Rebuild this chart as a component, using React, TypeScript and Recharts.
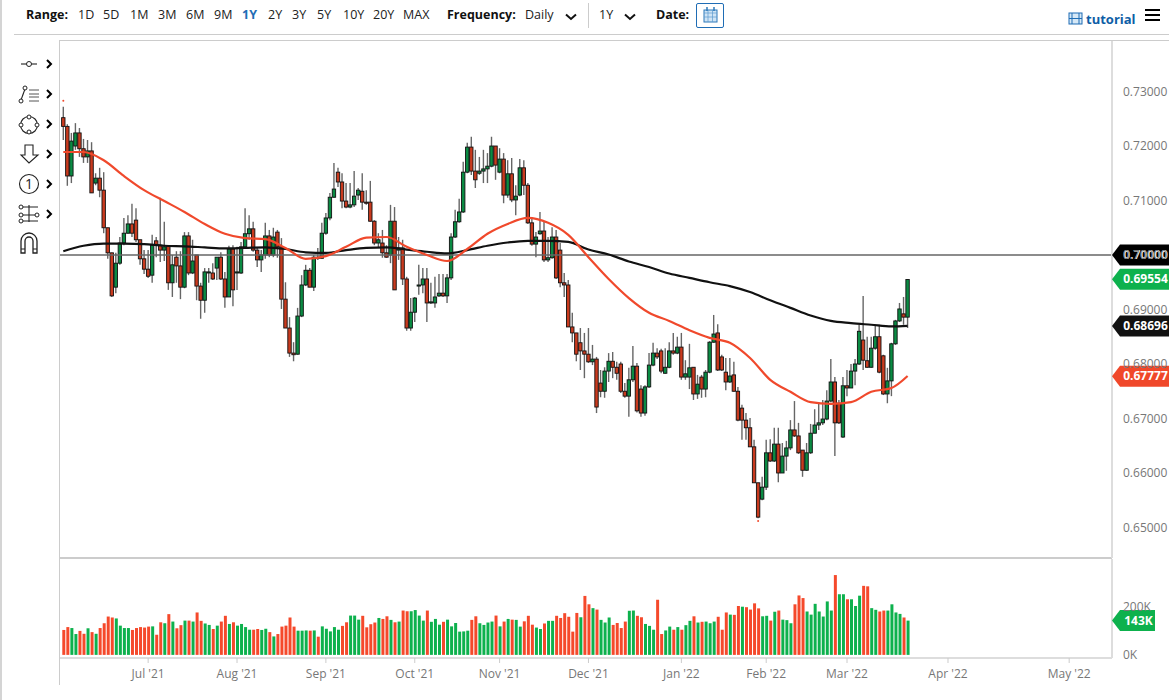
import {Bar, Cell, ComposedChart, Line, ReferenceDot, ReferenceLine, XAxis, YAxis} from "recharts"

const font = '"Open Sans", sans-serif'

// daily AUD/USD candles, in pips (price * 10000)
const opens = [
    7252,7236,7145,7200,7224,7195,7180,7191,7132,7141, 7119,7050,7004,6941,6985,7022,7040,7057,7064,7028,
    6993,6974,6963,7026,7018,7009,7017,6949,6996,6980, 6941,7035,6967,7000,6943,6917,6967,6967,6976,6996,
    6956,6923,7011,6967,6967,7015,7039,7048,7009,6991, 7000,7035,7000,7042,7015,6919,6866,6820,6818,6888,
    6945,6972,6941,6996,6994,7040,7068,7106,7152,7134, 7099,7088,7092,7110,7117,7097,7097,7062,7022,7022,
    7004,7000,7062,7009,7013,6956,6866,6895,6943,6945, 6956,6912,6912,6925,6930,6925,6958,7033,7061,7079,
    7152,7198,7154,7150,7154,7158,7163,7200,7152,7176, 7110,7149,7101,7110,7160,7128,7059,7020,7039,7044,
    6991,6995,7033,7009,6949,6945,6868,6857,6839,6824, 6818,6804,6809,6765,6750,6787,6805,6794,6800,6750,
    6741,6771,6796,6754,6710,6758,6798,6820,6824,6783, 6794,6824,6820,6831,6776,6776,6794,6745,6776,6754,
    6785,6840,6857,6813,6785,6767,6780,6750,6719,6697, 6683,6648,6582,6552,6574,6637,6622,6653,6600,6631,
    6646,6679,6668,6642,6605,6637,6673,6688,6692,6699, 6732,6767,6728,6666,6760,6756,6787,6800,6844,6806,
    6794,6829,6850,6815,6745,6769,6837,6879,6892,6886,
]
const closes = [
    7236,7145,7209,7224,7195,7180,7191,7114,7141,7119, 7050,7004,6925,6985,7022,7040,7057,7040,7028,6993,
    6974,6961,7018,7018,7009,7015,6949,6982,6980,6941, 7035,6967,6989,6943,6917,6969,6969,6956,6996,6956,
    6923,7011,6936,6969,7015,7039,7048,7009,6991,7000, 7035,7000,7033,7015,6919,6866,6820,6817,6888,6945,
    6972,6941,6996,6994,7040,7068,7106,7121,7134,7099, 7088,7092,7108,7119,7097,7095,7062,7022,7028,7004,
    6996,7062,6936,7013,6956,6866,6895,6921,6945,6956, 6912,6914,6923,6930,6925,6958,7033,7061,7079,7152,
    7198,7154,7138,7154,7158,7163,7200,7165,7176,7110, 7149,7101,7108,7160,7128,7059,7020,7033,7044,6991,
    6995,7033,6958,6949,6945,6868,6857,6818,6824,6818, 6804,6809,6721,6750,6787,6805,6794,6783,6750,6741,
    6771,6796,6714,6710,6758,6798,6820,6813,6787,6794, 6824,6820,6831,6776,6782,6793,6745,6763,6754,6785,
    6840,6855,6789,6789,6767,6778,6750,6697,6697,6683, 6648,6582,6519,6574,6637,6622,6653,6600,6631,6646,
    6679,6668,6637,6605,6637,6673,6688,6692,6699,6732, 6767,6692,6692,6760,6756,6787,6800,6860,6807,6794,
    6829,6850,6785,6745,6769,6837,6879,6901,6886,6955,
]
const highs = [
    7272,7240,7224,7242,7233,7213,7211,7207,7150,7160, 7152,7050,7004,7004,7033,7068,7073,7094,7086,7028,
    7009,7009,7037,7033,7105,7061,7018,7000,7007,7007, 7042,7042,7028,7000,6949,6976,6976,6985,6996,7005,
    6969,7017,7018,7015,7024,7086,7073,7061,7013,7009, 7059,7046,7050,7046,7031,6950,6886,6840,6903,6963,
    6982,6976,7000,7013,7059,7077,7114,7169,7160,7150, 7132,7132,7154,7123,7150,7119,7136,7064,7040,7046,
    7018,7092,7088,7033,7028,6960,6921,6923,6982,6976, 6976,6949,6960,6965,6965,6965,7040,7083,7103,7171,
    7206,7217,7193,7180,7193,7187,7217,7200,7196,7187, 7174,7178,7128,7176,7174,7132,7068,7042,7079,7061,
    7033,7051,7046,7022,6967,6954,6894,6857,6866,6857, 6866,6835,6813,6789,6794,6820,6822,6804,6804,6765,
    6793,6833,6802,6761,6761,6820,6839,6829,6828,6829, 6840,6857,6850,6857,6807,6837,6794,6780,6780,6789,
    6842,6890,6873,6817,6811,6811,6804,6758,6725,6710, 6701,6661,6582,6593,6661,6662,6683,6683,6655,6659,
    6697,6732,6692,6642,6655,6690,6717,6728,6734,6752, 6809,6776,6734,6776,6789,6800,6809,6872,6925,6850,
    6850,6872,6872,6817,6793,6839,6881,6912,6923,6956,
]
const lows = [
    7211,7127,7132,7193,7180,7169,7169,7114,7128,7106, 7040,6993,6923,6930,6982,7018,7039,7033,7024,6982,
    6965,6958,6949,6996,6987,6989,6936,6923,6949,6919, 6939,6963,6965,6917,6883,6894,6949,6954,6954,6954,
    6903,6923,6906,6936,6965,7013,7028,7006,6978,6969, 6993,6996,6996,6995,6901,6866,6813,6805,6817,6886,
    6943,6941,6934,6991,6993,7037,7064,7105,7125,7086, 7086,7086,7088,7101,7083,7092,7061,7018,7013,6995,
    6995,6985,6936,6991,6945,6861,6861,6877,6927,6930, 6877,6910,6903,6923,6923,6912,6954,7031,7059,7077,
    7150,7147,7123,7147,7132,7132,7161,7138,7150,7095, 7105,7097,7073,7108,7110,7057,7017,6996,7037,6987,
    6987,6993,6956,6941,6923,6868,6840,6805,6789,6774, 6802,6798,6710,6739,6738,6767,6774,6771,6747,6738,
    6703,6767,6711,6703,6705,6756,6796,6809,6783,6782, 6792,6817,6818,6771,6771,6754,6734,6736,6738,6739,
    6783,6839,6787,6787,6752,6765,6749,6695,6661,6661, 6648,6582,6517,6550,6569,6620,6620,6583,6600,6604,
    6642,6666,6635,6593,6604,6635,6673,6679,6688,6697, 6730,6631,6690,6664,6741,6756,6761,6798,6789,6793,
    6793,6826,6783,6743,6728,6741,6835,6877,6872,6866,
]
// volume in thousands
const volumes = [
    104,116,112,87,100,88,111,95,88,112, 132,160,156,152,122,112,112,104,112,116,
    114,118,119,84,136,132,170,139,111,124, 143,143,139,177,142,131,125,108,122,139,
    163,129,136,122,129,116,105,105,108,104, 109,95,77,87,118,122,156,118,101,101,
    102,101,102,76,119,109,98,116,105,121, 136,164,164,147,163,115,128,135,154,150,
    161,146,136,139,185,182,182,187,164,143, 185,138,150,126,138,147,119,133,97,98,
    101,146,161,132,125,135,139,164,119,139, 150,147,146,118,140,163,126,114,108,131,
    142,142,163,154,174,159,97,175,157,246, 211,195,189,146,135,156,125,133,112,139,
    184,185,163,157,129,121,105,230,87,102, 118,105,116,105,124,142,161,135,138,139,
    132,139,159,105,177,168,167,204,201,199, 189,215,194,161,163,143,180,185,147,145,
    132,211,248,237,181,168,213,181,160,223, 185,333,253,253,232,232,204,247,288,286,
    195,188,181,185,185,211,177,171,156,143,
]
// days where the volume bar is green under a red candle
const greenVolumeOnRed = [68, 128, 133, 168, 192]

// moving averages, read every 5 bars (and the last one), in pips
const maBars = [
    0,5,10,15,20,25,30,35,40,45,50,55,60,65,70,75,80,85,90,95,100,
    105,110,115,120,125,130,135,140,145,150,155,160,165,170,175,180,185,190,195,200,205,209,
]
const ma50 = [
    7189,7189,7174,7145,7119,7099,7079,7057,7039,7031,7029,7013,6993,6998,7015,7032,7033,7015,7000,6989,7011,
    7039,7057,7068,7059,7037,6996,6956,6921,6894,6879,6862,6848,6839,6811,6771,6749,6730,6727,6730,6749,6756,6778,
]
const ma200 = [
    7007,7017,7021,7021,7020,7017,7016,7014,7012,7013,7014,7011,7005,7004,7009,7013,7014,7010,7006,7003,7009,
    7017,7023,7026,7026,7024,7010,7001,6988,6978,6966,6958,6950,6943,6932,6917,6903,6889,6879,6875,6872,6869,6870,
]

const monthBars = [21, 43, 65, 87, 108, 130, 153, 174, 194, 219, 249]
const monthLabels = ["Jul '21", "Aug '21", "Sep '21", "Oct '21", "Nov '21", "Dec '21", "Jan '22", "Feb '22", "Mar '22", "Apr '22", "May '22"]
const priceTicks = [0.65, 0.66, 0.67, 0.68, 0.69, 0.70, 0.71, 0.72, 0.73]
const volumeTicks = [0, 200]
const rangeItems = ["1D", "5D", "1M", "3M", "6M", "9M", "1Y", "2Y", "3Y", "5Y", "10Y", "20Y", "MAX"]
const rangeX = [78, 103, 130, 158, 186, 214, 242, 268, 292, 317, 343, 373, 403]

const xDomain = [-0.82, 259.6]
const priceDomain = [0.6444, 0.73927]
const volumeDomain = [-13, 400]

const UP = "#0a8b43"
const DOWN = "#c93a1e"
const VOL_UP = "#0db14d"
const VOL_DOWN = "#f5492b"

const rows = opens.map((open, i) => {
    const at = maBars.indexOf(i)
    return {
        i,
        open: open / 10000,
        close: closes[i] / 10000,
        range: [lows[i] / 10000, highs[i] / 10000],
        volume: volumes[i],
        ma50: at >= 0 ? ma50[at] / 10000 : null,
        ma200: at >= 0 ? ma200[at] / 10000 : null,
    }
})

function Candle(props: any) {
    const {x, y, width, height, payload} = props
    const [low, high] = payload.range
    const k = height / (high - low || 1)
    const top = y + (high - Math.max(payload.open, payload.close)) * k
    const bodyH = Math.max(Math.abs(payload.open - payload.close) * k, 1)
    const cx = x + width / 2
    return (
        <g>
            <line x1={cx} x2={cx} y1={y} y2={y + height} stroke="#666" strokeWidth={1.4}/>
            <rect x={cx - 1.7} y={top} width={3.4} height={bodyH} stroke="#111" strokeWidth={0.9}
                  fill={payload.close >= payload.open ? UP : DOWN}/>
        </g>
    )
}

function Flag(props: any) {
    const {cx, cy, text, fill, right} = props
    return (
        <g>
            <path d={`M${cx} ${cy} L${cx + 8} ${cy - 10.5} H${right} V${cy + 10.5} H${cx + 8} Z`} fill={fill}/>
            <text x={(cx + 8 + right) / 2 + 1} y={cy + 4} textAnchor="middle" fill="#fff" fontSize={12}
                  fontWeight={700} fontFamily={font}>{text}</text>
        </g>
    )
}

function Chevron({x, y}: {x: number, y: number}) {
    return (
        <svg style={{position: "absolute", left: x, top: y}} width={8} height={10}>
            <path d="M2 1 L6 5 L2 9" fill="none" stroke="#000" strokeWidth={2}/>
        </svg>
    )
}

function Down({x, y}: {x: number, y: number}) {
    return (
        <svg style={{position: "absolute", left: x, top: y}} width={12} height={8}>
            <path d="M1 1.5 L6 6 L11 1.5" fill="none" stroke="#111" strokeWidth={2}/>
        </svg>
    )
}

function Tools() {
    const s = {fill: "none", stroke: "#222", strokeWidth: 1.1}
    return (
        <>
            <svg style={{position: "absolute", left: 0, top: 50}} width={48} height={210}>
                {/* line */}
                <path d="M21 14 H37" {...s}/><circle cx={29} cy={14} r={2.5} fill="#fff" stroke="#222"/>
                {/* fibonacci */}
                <path d="M25 39 L21 50" {...s}/><circle cx={25} cy={38} r={2} fill="#fff" stroke="#222"/>
                <circle cx={21} cy={51} r={2} fill="#fff" stroke="#222"/>
                <path d="M29 40 H39 M29 44 H39 M29 47 H39 M29 51 H39" stroke="#555" strokeWidth={1}/>
                {/* shapes */}
                <circle cx={29} cy={75} r={8.5} {...s}/>
                <circle cx={29} cy={67} r={2} fill="#fff" stroke="#222"/><circle cx={29} cy={82} r={2} fill="#fff" stroke="#222"/>
                <circle cx={21} cy={75} r={2} fill="#fff" stroke="#222"/><circle cx={37} cy={75} r={2} fill="#fff" stroke="#222"/>
                {/* arrow */}
                <path d="M25 95 H33 V105 H38 L29 113 L21 105 H25 Z" {...s}/>
                {/* counter */}
                <circle cx={29} cy={134} r={9.5} {...s}/>
                <text x={29} y={139} fontSize={14} textAnchor="middle" fontFamily={font} fill="#222">1</text>
                {/* measure */}
                <path d="M21 157 H38 M21 165 H38 M21 171 H38 M29 155 V172" {...s}/>
                <circle cx={21} cy={157} r={2} fill="#fff" stroke="#222"/><circle cx={21} cy={165} r={2} fill="#fff" stroke="#222"/>
                <circle cx={37} cy={165} r={2} fill="#fff" stroke="#222"/><circle cx={21} cy={171} r={2} fill="#fff" stroke="#222"/>
                {/* magnet */}
                <path d="M21 203 V191 A8 8 0 0 1 37 191 V203 H33 V191 A4 4 0 0 0 25 191 V203 Z" fill="none" stroke="#222" strokeWidth={1.3}/>
                <path d="M21 199 H25 M33 199 H37" stroke="#222"/>
            </svg>
            {[59, 89, 119, 149, 179, 209].map(y => <Chevron key={y} x={45} y={y}/>)}
        </>
    )
}

function Toolbar() {
    const label = (text: string, x: number, extra?: any) => (
        <span key={text + x} style={{position: "absolute", left: x, top: 7, fontSize: 12.5, lineHeight: "16px", color: "#222", ...extra}}>{text}</span>
    )
    const bold = {fontWeight: 700, color: "#111"}
    return (
        <>
            {label("Range:", 26, bold)}
            {rangeItems.map((t, i) => label(t, rangeX[i], t === "1Y" ? {color: "#1f6db5", fontWeight: 700} : undefined))}
            {label("Frequency:", 447, bold)}
            {label("Daily", 525)}
            <Down x={565} y={13}/>
            <div style={{position: "absolute", left: 588, top: 3, width: 1, height: 25, background: "#ccc"}}/>
            {label("1Y", 599)}
            <Down x={624} y={13}/>
            {label("Date:", 656, bold)}
            <div style={{position: "absolute", left: 696, top: 3, width: 26, height: 23, border: "1px solid #1f6db5", borderRadius: 2}}>
                <svg width={26} height={23}>
                    <rect x={7} y={6} width={13} height={12} fill="#cfe4f5" stroke="#2d79ba"/>
                    <path d="M7 9 H20 M11 6 V18 M15.5 6 V18 M7 13 H20" stroke="#5b9bd0" strokeWidth={0.7}/>
                    <path d="M10 3 V7 M17 3 V7" stroke="#2d79ba" strokeWidth={1.5}/>
                </svg>
            </div>
            <svg style={{position: "absolute", left: 1068, top: 12}} width={15} height={13}>
                <rect x={1} y={1} width={13} height={11} fill="#d6e8f6" stroke="#1f6db5"/>
                <path d="M4 1 V12 M11 1 V12 M1 6.5 H14" stroke="#1f6db5"/>
            </svg>
            <span style={{position: "absolute", left: 1086, top: 11, fontSize: 13, lineHeight: "16px", fontWeight: 700, color: "#0e5ea6"}}>tutorial</span>
            <svg style={{position: "absolute", left: 1145, top: 8}} width={15} height={14}>
                <path d="M0 2 H15 M0 7 H15 M0 12 H15" stroke="#000" strokeWidth={2.2}/>
            </svg>
        </>
    )
}

function App() {
    return (
        <div style={{position: "absolute", left: 0, top: 0, width: 1176, height: 700, background: "#fff", overflow: "hidden", fontFamily: font}}>
            {/* page frame */}
            <div style={{position: "absolute", left: 0, top: 0, width: 2, height: 700, background: "#d4d4d4"}}/>
            <div style={{position: "absolute", left: 14, top: 34, width: 1155, height: 1, background: "#ccc"}}/>
            <div style={{position: "absolute", left: 60, top: 40, width: 1109, height: 1, background: "#ccc"}}/>
            <div style={{position: "absolute", left: 59, top: 40, width: 1, height: 645, background: "#ccc"}}/>
            <div style={{position: "absolute", left: 60, top: 557, width: 1052, height: 2, background: "#ccc"}}/>

            <div style={{position: "absolute", left: 0, top: 0}}>
                <ComposedChart width={1176} height={700} data={rows} barGap={0}
                               margin={{top: 41, right: 0, bottom: 142, left: 60}}>
                    <XAxis dataKey="i" type="number" scale="linear" domain={xDomain} allowDataOverflow hide/>
                    <YAxis orientation="right" width={64} domain={priceDomain} allowDataOverflow ticks={priceTicks}
                           tickFormatter={(v: number) => v.toFixed(5)} tickSize={0} tickMargin={11}
                           tick={{fill: "#777", fontSize: 12, fontFamily: font}}
                           axisLine={{stroke: "#ddd", strokeWidth: 2}} tickLine={false}/>
                    <ReferenceLine y={0.7} stroke="#666" strokeWidth={1.6}/>
                    <Bar dataKey="range" barSize={4} shape={<Candle/>} isAnimationActive={false}/>
                    <Line dataKey="ma200" connectNulls type="monotone" stroke="#111" strokeWidth={2.2} dot={false} isAnimationActive={false}/>
                    <Line dataKey="ma50" connectNulls type="monotone" stroke="#f0492c" strokeWidth={2.2} dot={false} isAnimationActive={false}/>
                    <ReferenceDot x={0} y={0.7283} r={1} fill="#f0492c" stroke="none"/>
                    <ReferenceDot x={172} y={0.6512} r={1} fill="#f0492c" stroke="none"/>
                    <ReferenceDot x={xDomain[1]} y={0.7} shape={(p: any) => <Flag {...p} text="0.70000" fill="#000" right={1169}/>}/>
                    <ReferenceDot x={xDomain[1]} y={closes[209] / 10000 + 0.00004} shape={(p: any) => <Flag {...p} text="0.69554" fill={VOL_UP} right={1169}/>}/>
                    <ReferenceDot x={xDomain[1]} y={0.68696} shape={(p: any) => <Flag {...p} text="0.68696" fill="#111" right={1169}/>}/>
                    <ReferenceDot x={xDomain[1]} y={0.67777} shape={(p: any) => <Flag {...p} text="0.67777" fill="#f0482a" right={1169}/>}/>
                </ComposedChart>
            </div>

            <div style={{position: "absolute", left: 0, top: 559}}>
                <ComposedChart width={1176} height={141} data={rows} barGap={0}
                               margin={{top: 0, right: 0, bottom: 12, left: 60}}>
                    <XAxis dataKey="i" type="number" scale="linear" domain={xDomain} allowDataOverflow height={30}
                           ticks={monthBars} interval={0} tickSize={5} tickMargin={6}
                           tickFormatter={(v: number) => monthLabels[monthBars.indexOf(v)]}
                           tick={{fill: "#777", fontSize: 12, fontFamily: font}}
                           axisLine={{stroke: "#ddd", strokeWidth: 2}} tickLine={{stroke: "#ccc"}}/>
                    <YAxis orientation="right" width={64} domain={volumeDomain} allowDataOverflow ticks={volumeTicks}
                           tickFormatter={(v: number) => `${v}K`} tickSize={0} tickMargin={11}
                           tick={{fill: "#777", fontSize: 12, fontFamily: font}}
                           axisLine={{stroke: "#ddd", strokeWidth: 2}} tickLine={false}/>
                    <Bar dataKey="volume" barSize={3} isAnimationActive={false}>
                        {rows.map(r => (
                            <Cell key={r.i} fill={r.close >= r.open || greenVolumeOnRed.includes(r.i) ? VOL_UP : VOL_DOWN}/>
                        ))}
                    </Bar>
                    <ReferenceDot x={xDomain[1]} y={volumes[209]} shape={(p: any) => <Flag {...p} text="143K" fill={VOL_UP} right={1155}/>}/>
                </ComposedChart>
            </div>

            <Toolbar/>
            <Tools/>
        </div>
    )
}

export default App
